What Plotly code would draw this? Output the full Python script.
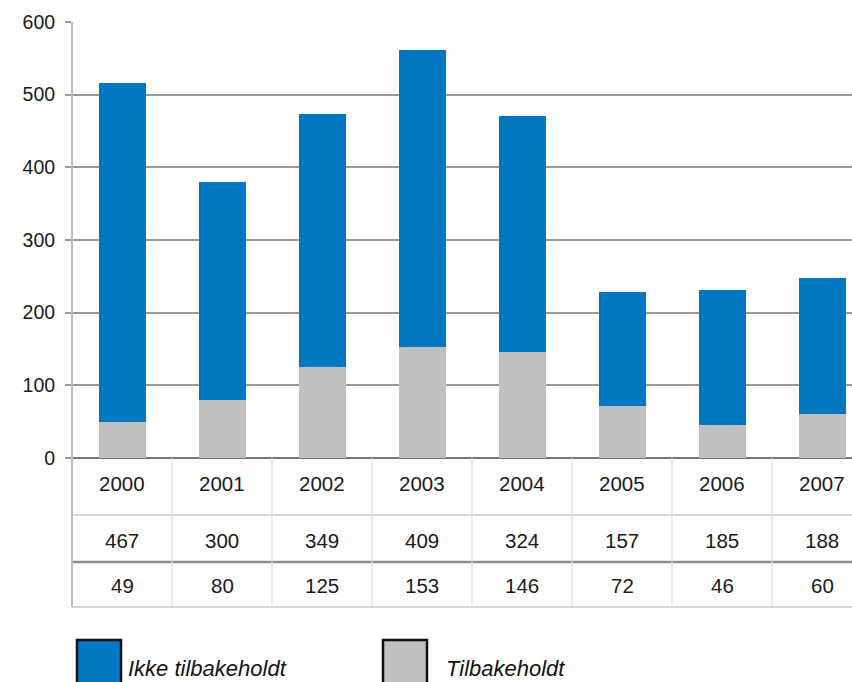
import plotly.graph_objects as go

# Data
years = ["2000", "2001", "2002", "2003", "2004", "2005", "2006", "2007"]
ikke_tilbakeholdt = [467, 300, 349, 409, 324, 157, 185, 188]
tilbakeholdt = [49, 80, 125, 153, 146, 72, 46, 60]
series_names = ["Ikke tilbakeholdt", "Tilbakeholdt"]
y_ticks = [0, 100, 200, 300, 400, 500, 600]

BLUE = "#0077C1"
GREY = "#C0C0C0"
FONT = "Liberation Sans, Arial, sans-serif"

# Page geometry (pixels)
W, H = 852, 682
LEFT, TOP, BOTTOM = 72, 22, 458
PLOT_H = BOTTOM - TOP
PLOT_W = W - LEFT


def py(p):
    """Pixel row -> paper y."""
    return (BOTTOM - p) / PLOT_H


def px(p):
    """Pixel column -> paper x."""
    return (p - LEFT) / PLOT_W


x_idx = list(range(len(years)))

fig = go.Figure()
fig.add_trace(go.Bar(x=x_idx, y=tilbakeholdt, name=series_names[1],
                     marker=dict(color=GREY, line=dict(width=0)), width=0.47))
fig.add_trace(go.Bar(x=x_idx, y=ikke_tilbakeholdt, name=series_names[0],
                     marker=dict(color=BLUE, line=dict(width=0)), width=0.47))

shapes = []
annotations = []

# Data table under the chart
row_lines = [(515, "#c8c8c8", 1.5), (562, "#8a8a8a", 2.5), (607, "#c8c8c8", 1.5)]
for yy, col, w in row_lines:
    shapes.append(dict(type="line", xref="paper", yref="paper", x0=0, x1=1.02,
                       y0=py(yy), y1=py(yy), line=dict(color=col, width=w)))
for i in range(len(years) - 1):
    shapes.append(dict(type="line", xref="x", yref="paper", x0=i + 0.5, x1=i + 0.5,
                       y0=py(BOTTOM), y1=py(607), line=dict(color="#dddddd", width=1.2)))
# left frame line
shapes.append(dict(type="line", xref="paper", yref="paper", x0=0, x1=0,
                   y0=1, y1=py(607), line=dict(color="#bdbdbd", width=2)))

rows = [(years, 483), ([str(v) for v in ikke_tilbakeholdt], 540),
        ([str(v) for v in tilbakeholdt], 585)]
for labels, yy in rows:
    for i, t in enumerate(labels):
        annotations.append(dict(x=i, y=py(yy), xref="x", yref="paper", text=t,
                                showarrow=False, xanchor="center", yanchor="middle",
                                font=dict(family=FONT, size=20.5, color="#1a1a1a")))

# Legend boxes
legend_items = [(series_names[0], BLUE, 77, 126), (series_names[1], GREY, 383, 444)]
for name, col, bx, tx in legend_items:
    shapes.append(dict(type="rect", xref="paper", yref="paper",
                       x0=px(bx), x1=px(bx + 44), y0=py(640), y1=py(692),
                       fillcolor=col, line=dict(color="#111111", width=2.5)))
    annotations.append(dict(x=px(tx), y=py(668), xref="paper", yref="paper",
                            text="<i>%s</i>" % name, showarrow=False,
                            xanchor="left", yanchor="middle",
                            font=dict(family=FONT, size=22, color="#111111")))

fig.update_layout(
    barmode="stack",
    width=W, height=H,
    margin=dict(l=LEFT, r=0, t=TOP, b=H - BOTTOM, pad=0),
    paper_bgcolor="white", plot_bgcolor="white",
    showlegend=False,
    shapes=shapes,
    annotations=annotations,
    xaxis=dict(range=[-0.5, 7.3], showticklabels=False, showgrid=False,
               zeroline=False, showline=False, ticks=""),
    yaxis=dict(range=[0, 600], tickvals=y_ticks, showgrid=True,
               gridcolor="#9a9a9a", gridwidth=1.5, zeroline=True,
               zerolinecolor="#777777", zerolinewidth=2,
               ticks="outside", ticklen=6, tickcolor="#9a9a9a", tickwidth=1.5,
               ticklabelstandoff=6, showline=False,
               tickfont=dict(family=FONT, size=19.5, color="#1a1a1a")),
)

fig.write_html("out.html")
